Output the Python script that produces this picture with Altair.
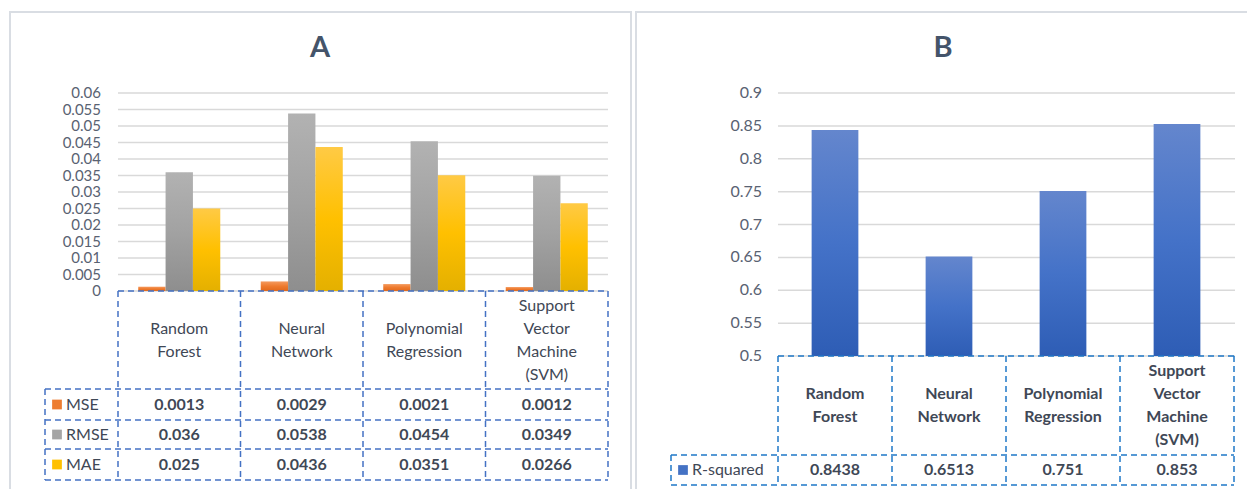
import altair as alt
import pandas as pd

# ---- chart values ----
models = ["Random Forest", "Neural Network", "Polynomial Regression",
          "Support Vector Machine (SVM)"]
header_labels = ["Random\nForest", "Neural\nNetwork", "Polynomial\nRegression",
                 "Support\nVector\nMachine\n(SVM)"]
metrics = ["MSE", "RMSE", "MAE"]
mse = [0.0013, 0.0029, 0.0021, 0.0012]
rmse = [0.036, 0.0538, 0.0454, 0.0349]
mae = [0.025, 0.0436, 0.0351, 0.0266]
r_squared = [0.8438, 0.6513, 0.751, 0.853]
ticks_a = [0, 0.005, 0.01, 0.015, 0.02, 0.025, 0.03, 0.035, 0.04, 0.045,
           0.05, 0.055, 0.06]
ticks_b = [0.5, 0.55, 0.6, 0.65, 0.7, 0.75, 0.8, 0.85, 0.9]

# ---- styling ----
FONT = "Lato"
TEXT = "#3f4856"
AXIS_TEXT = "#596272"
TITLE = "#44546A"
GRID = "#d9d9d9"
FRAME = "#d9dde3"
DASH_A = "#4472C4"
DASH_B = "#1f78c8"
DASH = [6, 4]
LINE_H = 23

metric_values = {"MSE": mse, "RMSE": rmse, "MAE": mae}
swatch = {"MSE": "#ED7D31", "RMSE": "#A5A5A5", "MAE": "#FFC000", "R-squared": "#4472C4"}


def gradient(top, mid, bottom):
    return alt.LinearGradient(
        gradient="linear", x1=0, y1=0, x2=0, y2=1,
        stops=[alt.GradientStop(color=top, offset=0),
               alt.GradientStop(color=mid, offset=0.5),
               alt.GradientStop(color=bottom, offset=1)])


fills = {
    "MSE": gradient("#f49a5e", "#ee7a2e", "#e0691c"),
    "RMSE": gradient("#b2b2b2", "#a2a2a2", "#8e8e8e"),
    "MAE": gradient("#ffca45", "#ffc000", "#e4b000"),
    "R-squared": gradient("#6486cd", "#4472c8", "#2e5db5"),
}

one = pd.DataFrame({"k": [0]})
models_df = pd.DataFrame({"model": models, "label": header_labels})


def hline(y, x0, x1, color, dash=None, width=1.5):
    kw = {"strokeDash": dash} if dash else {}
    return alt.Chart(one).mark_rule(color=color, strokeWidth=width, **kw).encode(
        x=alt.value(x0), x2=alt.value(x1), y=alt.value(y))


def vline(x, y0, y1, color, dash=None, width=1.5):
    kw = {"strokeDash": dash} if dash else {}
    return alt.Chart(one).mark_rule(color=color, strokeWidth=width, **kw).encode(
        x=alt.value(x), y=alt.value(y0), y2=alt.value(y1))


def frame(x0, x1, y0, y1):
    return alt.Chart(one).mark_rect(fillOpacity=0, stroke=FRAME, strokeWidth=2).encode(
        x=alt.value(x0), x2=alt.value(x1), y=alt.value(y0), y2=alt.value(y1))


def title(t, x, y):
    return alt.Chart(one).mark_text(text=t, font=FONT, fontSize=29, fontWeight="bold",
                                    color=TITLE, baseline="middle").encode(
        x=alt.value(x), y=alt.value(y))


def table(xs, layout, rows, dash_color, header_weight):
    """Dashed data table under the plot: header cells, row lines, legend keys, values."""
    left, right, top, head_bottom, row_edges, legend_left = layout
    bottom = row_edges[-1]
    layers = []
    col_rule = alt.Chart(models_df).mark_rule(color=dash_color, strokeWidth=1.5,
                                              strokeDash=DASH)
    layers.append(col_rule.encode(
        x=alt.X("model:N", scale=xs, bandPosition=0, axis=None),
        y=alt.value(top), y2=alt.value(bottom)))
    layers.append(alt.Chart(models_df.tail(1)).mark_rule(
        color=dash_color, strokeWidth=1.5, strokeDash=DASH).encode(
        x=alt.X("model:N", scale=xs, bandPosition=1, axis=None),
        y=alt.value(top), y2=alt.value(bottom)))
    layers.append(hline(top, left, right, dash_color, DASH))
    for e in row_edges:
        layers.append(hline(e, legend_left, right, dash_color, DASH))
    layers.append(vline(legend_left, row_edges[0], bottom, dash_color, DASH))
    # category header, each block of lines centred in its cell
    mid = (top + head_bottom) / 2
    for m, lab in zip(models, header_labels):
        n = lab.count("\n") + 1
        layers.append(alt.Chart(models_df).transform_filter(
            alt.datum.model == m).mark_text(
            font=FONT, fontSize=16, lineHeight=LINE_H, lineBreak="\n", color=TEXT,
            fontWeight=header_weight, baseline="middle", align="center").encode(
            x=alt.X("model:N", scale=xs, axis=None),
            y=alt.value(mid - (n - 1) * LINE_H / 2), text="label:N"))
    # rows: legend key, name, values
    for i, (name, vals) in enumerate(rows):
        yc = (row_edges[i] + row_edges[i + 1]) / 2
        layers.append(alt.Chart(one).mark_square(size=95, color=swatch[name], opacity=1).encode(
            x=alt.value(legend_left + 12), y=alt.value(yc)))
        layers.append(alt.Chart(one).mark_text(
            text=name, font=FONT, fontSize=16, color=TEXT, align="left",
            baseline="middle").encode(x=alt.value(legend_left + 21), y=alt.value(yc)))
        vdf = pd.DataFrame({"model": models, "txt": [str(v) for v in vals]})
        layers.append(alt.Chart(vdf).mark_text(
            font=FONT, fontSize=16, fontWeight="bold", color=TEXT,
            baseline="middle", align="center").encode(
            x=alt.X("model:N", scale=xs, axis=None), y=alt.value(yc), text="txt:N"))
    return layers


def grid_and_labels(ticks, ys, x0, x1, label_right, size):
    tdf = pd.DataFrame({"tick": ticks})
    grid = alt.Chart(tdf).mark_rule(color=GRID, strokeWidth=1.5).encode(
        y=alt.Y("tick:Q", scale=ys, axis=None),
        x=alt.value(x0), x2=alt.value(x1))
    labels = alt.Chart(tdf).mark_text(
        font=FONT, fontSize=size, color=AXIS_TEXT, align="right", baseline="middle").encode(
        y=alt.Y("tick:Q", scale=ys, axis=None),
        x=alt.value(label_right), text=alt.Text("tick:Q", format="~g"))
    return [grid, labels]


# ---- panel A: MSE / RMSE / MAE ----
xa = alt.Scale(domain=models, range=[118, 608], paddingInner=0, paddingOuter=0)
ya = alt.Scale(domain=[0, 0.06], range=[291, 93], nice=False, zero=True)

long_a = pd.DataFrame([
    {"model": m, "metric": k, "value": metric_values[k][i]}
    for k in metrics for i, m in enumerate(models)])

layers_a = [frame(10, 631, 12, 500), title("A", 320, 48)]
layers_a += grid_and_labels(ticks_a, ya, 118, 608, 101, 15)
for k in metrics:
    layers_a.append(alt.Chart(long_a).transform_filter(alt.datum.metric == k).mark_bar(
        color=fills[k]).encode(
        x=alt.X("model:N", scale=xa, axis=None),
        xOffset=alt.XOffset("metric:N", scale=alt.Scale(domain=metrics,
                                                         paddingOuter=0.74,
                                                         paddingInner=0)),
        y=alt.Y("value:Q", scale=ya, axis=None),
        y2=alt.datum(0)))
layers_a += table(xa, (118, 608, 291, 389, [389, 420, 449, 480], 45),
                  [(k, metric_values[k]) for k in metrics], DASH_A, "normal")
panel_a = alt.layer(*layers_a)

# ---- panel B: R-squared ----
xb = alt.Scale(domain=models, range=[778, 1234], paddingInner=0, paddingOuter=0)
yb = alt.Scale(domain=[0.5, 0.9], range=[356, 93], nice=False, zero=False)
df_b = pd.DataFrame({"model": models, "value": r_squared})

layers_b = [frame(636, 1252, 12, 500), title("B", 943, 48)]
layers_b += grid_and_labels(ticks_b, yb, 778, 1235, 762, 16)
layers_b.append(alt.Chart(df_b).mark_bar(color=fills["R-squared"],
                                         width=alt.RelativeBandSize(0.41)).encode(
    x=alt.X("model:N", scale=xb, axis=None),
    y=alt.Y("value:Q", scale=yb, axis=None),
    y2=alt.datum(0.5)))
layers_b += table(xb, (778, 1234, 356, 455, [455, 485], 671),
                  [("R-squared", r_squared)], DASH_B, "bold")
panel_b = alt.layer(*layers_b)

chart = alt.layer(panel_a, panel_b).resolve_scale(
    x="independent", y="independent"
).properties(
    width=1247, height=489, padding=0,
    autosize=alt.AutoSizeParams(type="none"), background="white"
).configure_view(strokeWidth=0)

chart.save("out.html", embed_options={"renderer": "svg", "actions": False})
